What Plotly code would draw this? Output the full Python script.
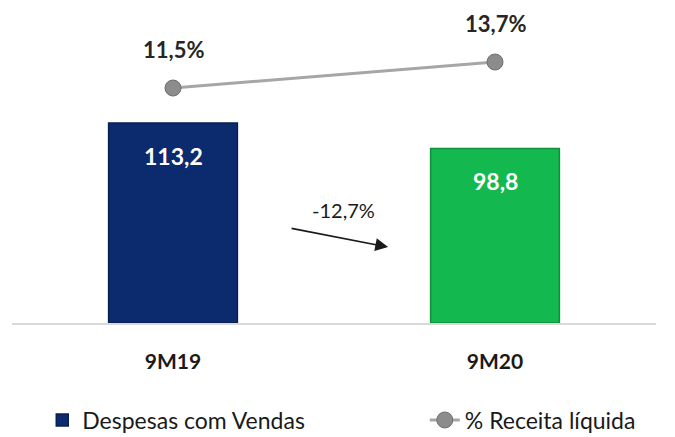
import plotly.graph_objects as go

periods = ["9M19", "9M20"]
despesas = [113.2, 98.8]
pct_receita = [11.5, 13.7]
bar_colors = ["#0c2a6e", "#13b94f"]
variacao = "-12,7%"


def br(v):
    return f"{v:.1f}".replace(".", ",")


fig = go.Figure()
fig.add_trace(go.Bar(x=periods, y=despesas,
                     name="Despesas com Vendas",
                     legend="legend",
                     marker_color=bar_colors,
                     marker_line_color=["#08204f", "#0e8f3c"],
                     marker_line_width=1.5,
                     width=0.4))
fig.add_trace(go.Scatter(x=periods, y=pct_receita,
                         mode="lines+markers",
                         name="% Receita líquida",
                         legend="legend2",
                         yaxis="y2",
                         line=dict(color="#a6a6a6", width=3),
                         marker=dict(color="#8c8c8c", size=16,
                                     line=dict(color="#6f6f6f", width=1))))

annotations = []
# bar value labels
for p, v in zip(periods, despesas):
    annotations.append(dict(x=p, y=v, xref="x", yref="y", text=f"<b>{br(v)}</b>",
                            showarrow=False, yshift=-33,
                            font=dict(color="white", size=23)))
# line value labels
for p, v in zip(periods, pct_receita):
    annotations.append(dict(x=p, y=v, xref="x", yref="y2", text=f"<b>{br(v)}%</b>",
                            showarrow=False, yshift=39, borderpad=0,
                            font=dict(color="#262626", size=22)))
# variation arrow
annotations.append(dict(x=0.584, y=0.241, xref="paper", yref="paper", text="",
                        showarrow=True, ax=-98, ay=-19, arrowhead=2,
                        arrowsize=1.6, arrowwidth=1.6, arrowcolor="#1a1a1a"))
annotations.append(dict(x=0.514, y=0.359, xref="paper", yref="paper",
                        text=variacao, showarrow=False,
                        font=dict(color="#1a1a1a", size=20)))

legend_style = dict(orientation="h", xanchor="left", y=-0.308, yanchor="middle",
                    font=dict(size=23))

fig.update_layout(
    width=675, height=437,
    margin=dict(l=4, r=27, t=0, b=122, autoexpand=False),
    plot_bgcolor="white", paper_bgcolor="white",
    font=dict(family="Lato, Carlito, sans-serif", color="#1a1a1a"),
    showlegend=True,
    legend=dict(x=0.047, **legend_style),
    legend2=dict(x=0.641, **legend_style),
    annotations=annotations,
    xaxis=dict(range=[-0.5, 1.5], showline=True, linecolor="#d9d9d9", linewidth=2,
               ticks="", tickfont=dict(size=21), tickprefix="<b>", ticksuffix="</b>",
               ticklabelstandoff=19),
    yaxis=dict(range=[0, 178.3], visible=False),
    yaxis2=dict(range=[-8.38, 18.27], overlaying="y", visible=False),
    bargap=0.6,
)
fig.write_html("out.html")
